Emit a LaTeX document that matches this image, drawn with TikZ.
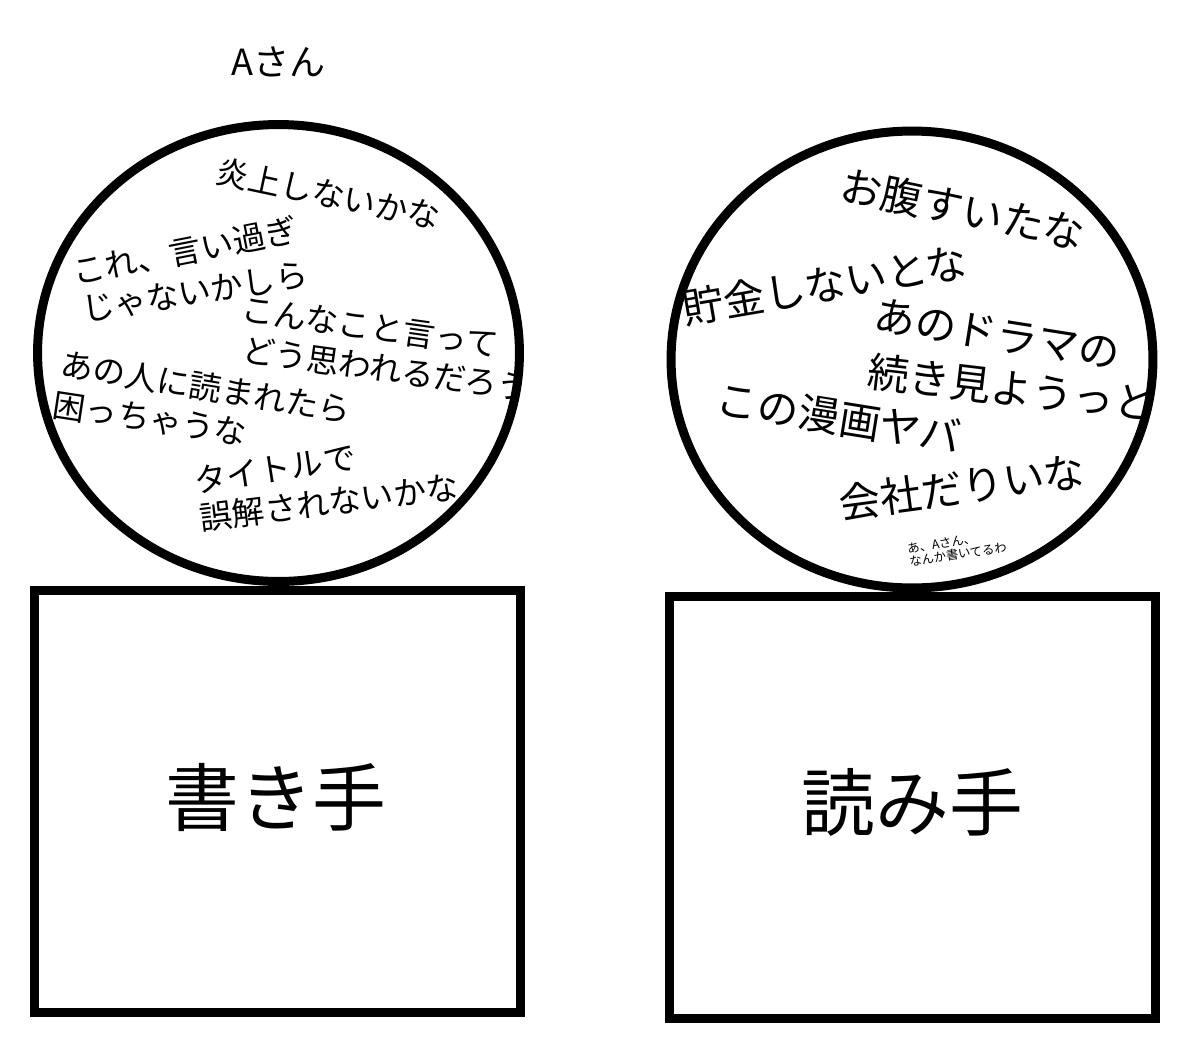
\documentclass[tikz,border=0pt]{standalone}
\usepackage{fontspec}
\setmainfont{Noto Sans CJK JP}
\usetikzlibrary{shapes.geometric}
\tikzset{
	head/.style={ellipse,draw=black,line width=0.18cm,minimum width=9.64cm,minimum height=9.14cm,inner sep=0},
	panel/.style={rectangle,draw=black,line width=0.18cm,minimum width=9.72cm,minimum height=8.44cm,inner sep=0},
	rolename/.style={inner sep=0,font=\fontsize{42}{48}\selectfont},
	thought/.style={inner sep=0,font=\fontsize{18.5}{22}\selectfont},
	bigthought/.style={inner sep=0,font=\fontsize{23.5}{28}\selectfont},
	whisper/.style={inner sep=0,align=left,font=\fontsize{7}{7.6}\selectfont},
	nametag/.style={inner sep=0,font=\fontsize{20.5}{24}\selectfont}
}

\begin{document}
\begin{tikzpicture}[x=0.02cm,y=-0.02cm]
	\useasboundingbox (0,0) rectangle (1200,1046);

	%%Writer (A-san)
	\node[nametag] (aname) at (278.5,62) {Aさん};
	\begin{scope}
	\clip (278.5,353) ellipse [x radius=4.82cm,y radius=4.57cm];
	\node[thought,rotate=-12] (w1) at (328.5,194) {炎上しないかな};
	\node[thought,rotate=11] (w2) at (185,251) {これ、言い過ぎ};
	\node[thought,rotate=9] (w3) at (195,292) {じゃないかしら};
	\node[thought,rotate=-8] (w4) at (370,327) {こんなこと言って};
	\node[thought,rotate=-7.8] (w5) at (386,369) {どう思われるだろう};
	\node[thought,rotate=-9.3] (w6) at (206,387) {あの人に読まれたら};
	\node[thought,rotate=-8.6] (w7) at (150,419) {困っちゃうな};
	\node[thought,rotate=8.8] (w8) at (275,469) {タイトルで};
	\node[thought,rotate=7.1] (w9) at (329,502) {誤解されないかな};
	\end{scope}
	\node[head] (writerhead) at (278.5,353) {};
	\node[panel] (writerbox) at (277.5,801.5) {};
	\node[rolename] (writer) at (276,797) {書き手};

	%%Reader
	\begin{scope}
	\clip (912,359.5) ellipse [x radius=4.83cm,y radius=4.58cm];
	\node[bigthought,rotate=-11.8] (r1) at (963,209) {お腹すいたな};
	\node[bigthought,rotate=9.8] (r2) at (825,285) {貯金しないとな};
	\node[bigthought,rotate=-9] (r3) at (997,334) {あのドラマの};
	\node[bigthought,rotate=-6.7] (r4) at (1012,388) {続き見ようっと};
	\node[bigthought,rotate=-9.1] (r5) at (839,418) {この漫画ヤバ};
	\node[bigthought,rotate=7.7] (r6) at (962,487) {会社だりいな};
	\node[whisper,rotate=9] (r7) at (957,548) {あ、Aさん、\\なんか書いてるわ};
	\end{scope}
	\node[head] (readerhead) at (912,359.5) {};
	\node[panel] (readerbox) at (912.5,807.5) {};
	\node[rolename] (reader) at (912.5,802) {読み手};

\end{tikzpicture}
\end{document}
